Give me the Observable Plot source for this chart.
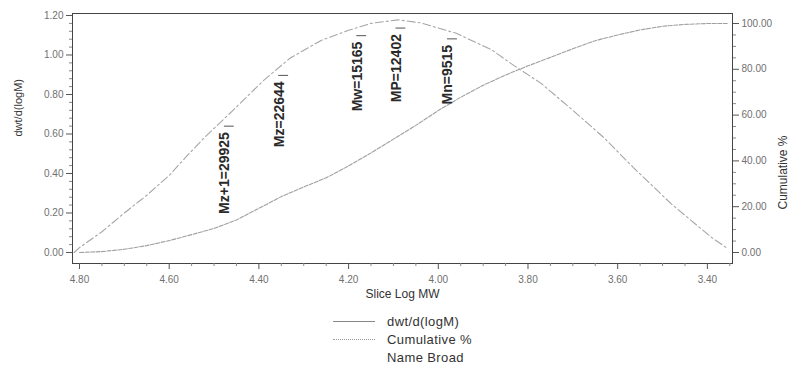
<!DOCTYPE html>
<html><head><meta charset="utf-8">
<script src="https://cdn.jsdelivr.net/npm/d3@7"></script>
<script src="https://cdn.jsdelivr.net/npm/@observablehq/plot@0.6"></script>
<style>
body{margin:0;background:#fff;font-family:"Liberation Sans",Arial,sans-serif;}
#wrap{position:relative;width:795px;height:369px;overflow:hidden;}
#legend{position:absolute;left:333px;top:312px;font-size:13px;color:#333;letter-spacing:0.4px;}
.row{height:18px;display:flex;align-items:center;}
.sw{width:42px;margin-right:12px;height:0;}
g[aria-label="avg labels"] text{letter-spacing:1.5px;}
</style></head><body>
<div id="wrap"><div id="chart"></div><div id="legend"></div></div>
<script>
// dwt/d(logM) distribution (Slice Log MW vs value)
const logMW = [4.812,4.80,4.75,4.70,4.65,4.60,4.56,4.52,4.46,4.39,4.33,4.26,4.20,4.15,4.09,4.04,3.96,3.88,3.84,3.77,3.70,3.63,3.565,3.48,3.39,3.355];
const dwt   = [0.00,0.025,0.105,0.20,0.29,0.39,0.49,0.585,0.715,0.87,0.985,1.075,1.125,1.16,1.178,1.163,1.11,1.025,0.96,0.855,0.72,0.58,0.43,0.245,0.075,0.02];
// Cumulative %
const cumLogMW = [4.80,4.75,4.70,4.65,4.60,4.55,4.50,4.45,4.40,4.35,4.30,4.25,4.20,4.15,4.10,4.05,4.00,3.95,3.90,3.85,3.80,3.75,3.70,3.65,3.60,3.55,3.50,3.45,3.40,3.355];
const cumPct   = [0,0.4,1.4,3.0,5.2,7.8,10.5,14.2,19.3,24.4,28.6,32.6,37.8,43.5,49.5,55.5,62.0,67.8,73.0,77.5,81.5,85.2,89.0,92.5,95.0,97.2,98.8,99.6,100,100];
// molecular weight averages
const avgNames  = ["Mz+1","Mz","Mw","MP","Mn"];
const avgValues = [29925,22644,15165,12402,9515];
// ticks
const xTicks = [4.80,4.60,4.40,4.20,4.00,3.80,3.60,3.40];
const leftTicks = [0,0.2,0.4,0.6,0.8,1.0,1.2];
const rightTicks = [0,20,40,60,80,100];
const legendLabels = ["dwt/d(logM)","Cumulative %","Name Broad"];

const k = 1.1595/100; // 100 % on right axis == 1.1595 on left axis
const bell = logMW.map((x,i)=>({x, y: dwt[i]}));
const cum = cumLogMW.map((x,i)=>({x, y: cumPct[i]*k}));
const interp = d3.scaleLinear().domain(logMW).range(dwt);
const avgs = avgNames.map((n,i)=>({name:n, M:avgValues[i], lx:Math.log10(avgValues[i]), ly:interp(Math.log10(avgValues[i]))}));

const xMinor = d3.range(0,30).map(i=>+(4.80-0.05*i).toFixed(2)).filter(v=>v>=3.345 && !xTicks.some(t=>Math.abs(t-v)<1e-6));
const yMinor = d3.range(0,31).map(i=>+(0.04*i).toFixed(2)).filter(v=>!leftTicks.some(t=>Math.abs(t-v)<1e-6));
const rMinor = d3.range(0,21).map(i=>5*i).filter(v=>v%20!==0).map(v=>v*k);

const tickCol = "#555", labCol = "#707070";
const plot = Plot.plot({
  width: 795, height: 305,
  marginLeft: 72, marginRight: 63, marginTop: 13, marginBottom: 42,
  style: {background:"#fff", fontFamily:"'Liberation Sans',Arial,sans-serif", overflow:"visible"},
  x: {domain:[4.8156, 3.344]},
  y: {domain:[-0.0557, 1.2101]},
  marks: [
    Plot.line(bell, {x:"x", y:"y", stroke:"#a6a6a6", strokeWidth:1.1, strokeDasharray:"8,3,2,3"}),
    Plot.line(cum, {x:"x", y:"y", stroke:"#a0a0a0", strokeWidth:1.1, strokeDasharray:"4,1.5"}),
    Plot.frame({stroke:"#444"}),
    Plot.axisX(xTicks, {tickSize:6, tickPadding:6, tickFormat:d=>d.toFixed(2), fontSize:10, stroke:tickCol, fill:labCol, label:null}),
    Plot.axisX(xMinor, {tickSize:3, tickFormat:()=>"", stroke:"#888", label:null}),
    Plot.axisY(leftTicks, {anchor:"left", tickSize:6, tickPadding:3, tickFormat:d=>d.toFixed(2), fontSize:10, stroke:tickCol, fill:labCol, label:null}),
    Plot.axisY(yMinor, {anchor:"left", tickSize:3, tickFormat:()=>"", stroke:"#888", label:null}),
    Plot.axisY(rightTicks.map(d=>d*k), {anchor:"right", tickSize:6, tickPadding:3, tickFormat:d=>(d/k).toFixed(2), fontSize:10, stroke:tickCol, fill:labCol, label:null}),
    Plot.axisY(rMinor, {anchor:"right", tickSize:3, tickFormat:()=>"", stroke:"#888", label:null}),
    Plot.text(["Slice Log MW"], {frameAnchor:"bottom", dy:34, fontSize:12, fill:"#333"}),
    Plot.text(["dwt/d(logM)"], {frameAnchor:"left", dx:-54, dy:-2, rotate:-90, fontSize:11, fill:"#333"}),
    Plot.text(["Cumulative %"], {frameAnchor:"right", dx:51, dy:-3, rotate:-90, fontSize:12, fill:"#333"}),
    Plot.link(avgs, {x1:d=>d.lx+0.002, x2:d=>d.lx-0.02, y1:"ly", y2:"ly", dy:8, stroke:"#555", strokeWidth:1}),
    Plot.text(avgs, {x:"lx", y:"ly", text:d=>`${d.name}=${d.M}`, rotate:-90, textAnchor:"end", dy:14, fontSize:14, fontWeight:"bold", fill:"#2a2a2a", ariaLabel:"avg labels"})
  ]
});
document.getElementById("chart").appendChild(plot);

const leg = document.getElementById("legend");
const styles = ["border-top:1px solid #888","border-top:1px dotted #999",""];
legendLabels.forEach((t,i)=>{
  const r = document.createElement("div"); r.className="row";
  const s = document.createElement("div"); s.className="sw"; if(styles[i]) s.style.cssText = styles[i];
  const l = document.createElement("span"); l.textContent = t;
  r.appendChild(s); r.appendChild(l); leg.appendChild(r);
});
</script></body></html>
